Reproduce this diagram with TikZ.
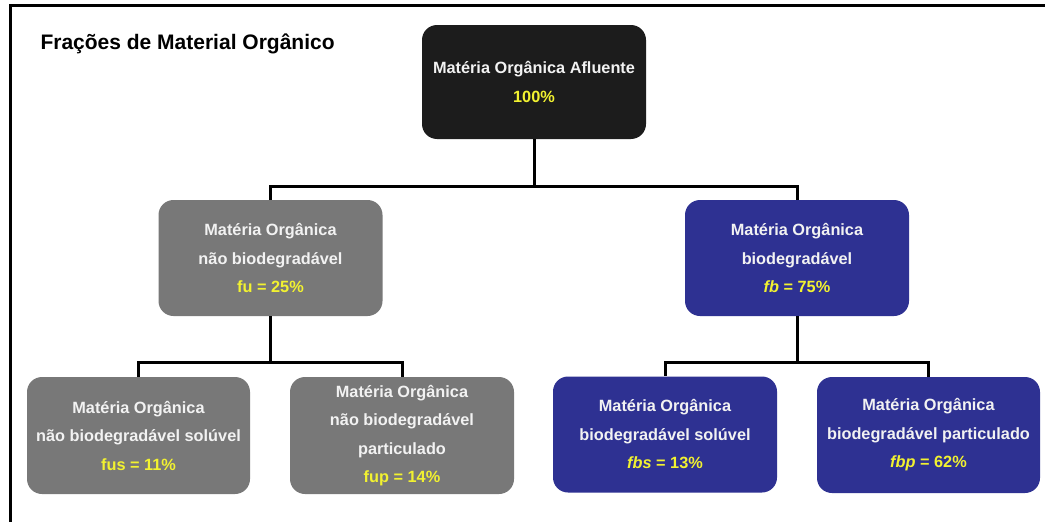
\documentclass[tikz,border=0pt]{standalone}
\usepackage{fontspec}
\setmainfont{Liberation Sans}
\definecolor{boxblack}{HTML}{1C1C1C}
\definecolor{boxgray}{HTML}{787878}
\definecolor{boxblue}{HTML}{2E3192}
\definecolor{valyellow}{HTML}{F2F230}
\definecolor{txtwhite}{HTML}{F2F2F2}
\tikzset{
  orgbox/.style={rectangle, rounded corners=15pt, draw=none, text=txtwhite, align=center,
    minimum width=224pt, minimum height=116pt, inner sep=0pt,
    font=\bfseries\fontsize{16.3}{28.5}\selectfont},
  blackbox/.style={orgbox, fill=boxblack},
  graybox/.style={orgbox, fill=boxgray},
  bluebox/.style={orgbox, fill=boxblue},
  conn/.style={draw=black, line width=3pt},
  frameline/.style={draw=black, line width=3pt}
}
\newcommand{\val}[1]{\textcolor{valyellow}{#1}}
\begin{document}
\begin{tikzpicture}[x=1pt,y=-1pt]
\useasboundingbox[fill=white] (0,0) rectangle (1045,522);
\draw[frameline] (10,522) -- (10,5.5) -- (1045,5.5);
\node[anchor=base west, font=\bfseries\fontsize{21}{24}\selectfont, text=black] (title) at (37,49) {Frações de Material Orgânico};

\node[blackbox, minimum height=114pt] (top) at (534,82) {Matéria Orgânica Afluente\\\val{100\%}};

\node[graybox] (mg) at (270.5,258) {Matéria Orgânica\\não biodegradável\\\val{fu = 25\%}};
\node[bluebox] (mb) at (797,258) {Matéria Orgânica\\biodegradável\\\val{\textit{fb} = 75\%}};

\node[graybox, minimum width=223pt, minimum height=117pt] (g1) at (138.5,435.5) {Matéria Orgânica\\não biodegradável solúvel\\\val{fus = 11\%}};
\node[graybox, minimum height=117pt] (g2) at (402,435.5) {Matéria Orgânica\\não biodegradável\\particulado\\\val{fup = 14\%}};
\node[bluebox] (b1) at (665,434.5) {Matéria Orgânica\\biodegradável solúvel\\\val{\textit{fbs} = 13\%}};
\node[bluebox, minimum width=223pt] (b2) at (928.5,435) {Matéria Orgânica\\biodegradável particulado\\\val{\textit{fbp} = 62\%}};

\coordinate (j1) at (534,186);
\coordinate (j2) at (270.5,362);
\coordinate (j3) at (797,362);

\draw[conn] (top.south) -- (j1) -| (mg.north);
\draw[conn] (j1) -| (mb.north);
\draw[conn] (mg.south) -- (j2) -| (g1.north);
\draw[conn] (j2) -| (g2.north);
\draw[conn] (mb.south) -- (j3) -| (b1.north);
\draw[conn] (j3) -| (b2.north);
\end{tikzpicture}
\end{document}
